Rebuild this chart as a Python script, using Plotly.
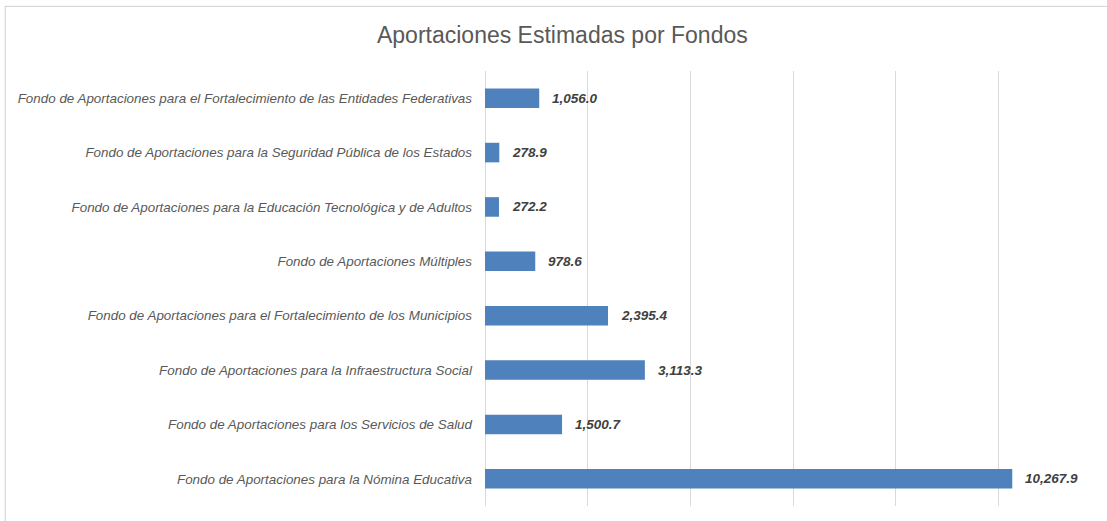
import plotly.graph_objects as go

categories = [
    "Fondo de Aportaciones para el Fortalecimiento de las Entidades Federativas",
    "Fondo de Aportaciones para la Seguridad Pública de los Estados",
    "Fondo de Aportaciones para la Educación Tecnológica y de Adultos",
    "Fondo de Aportaciones Múltiples",
    "Fondo de Aportaciones para el Fortalecimiento de los Municipios",
    "Fondo de Aportaciones para la Infraestructura Social",
    "Fondo de Aportaciones para los Servicios de Salud",
    "Fondo de Aportaciones para la Nómina Educativa",
]
values = [1056.0, 278.9, 272.2, 978.6, 2395.4, 3113.3, 1500.7, 10267.9]
title_text = "Aportaciones Estimadas por Fondos"

FONT = "Liberation Sans, Arial, sans-serif"

fig = go.Figure()
fig.add_trace(go.Bar(
    x=values,
    y=categories,
    orientation="h",
    marker=dict(color="#4F81BD", line=dict(width=0)),
    hoverinfo="x+y",
))

for c, v in zip(categories, values):
    fig.add_annotation(
        x=v, y=c, xref="x", yref="y",
        text=f"<b><i>{v:,.1f}</i></b>",
        showarrow=False, xanchor="left", xshift=11,
        font=dict(family=FONT, size=13.5, color="#404040"),
    )

# outer chart border
fig.add_shape(
    type="rect", xref="paper", yref="paper",
    x0=-0.7776, x1=1.05, y0=-0.1, y1=1.1487,
    line=dict(color="#D9D9D9", width=1.2), fillcolor="rgba(0,0,0,0)",
    layer="below",
)

fig.update_layout(
    width=1107, height=521,
    margin=dict(l=485, r=5, t=71, b=15),
    paper_bgcolor="white", plot_bgcolor="white",
    bargap=0.64,
    showlegend=False,
    title=dict(
        text=title_text, x=0.508, xanchor="center", y=0.933, yanchor="middle",
        font=dict(family=FONT, size=23, color="#595959"),
    ),
    xaxis=dict(
        range=[0, 12015], tick0=0, dtick=2000, showgrid=True, gridcolor="#D9D9D9",
        gridwidth=1, zeroline=True, zerolinecolor="#D9D9D9", zerolinewidth=1,
        showticklabels=False, showline=False, fixedrange=True,
    ),
    yaxis=dict(
        autorange="reversed", showgrid=False, zeroline=False, showline=False,
        ticks="", ticklabelstandoff=12,
        tickfont=dict(family=FONT, size=13.4, color="#595959", style="italic"),
    ),
    font=dict(family=FONT),
)

fig.write_html(
    "out.html",
    config={"displayModeBar": False},
    post_script="document.body.style.margin='0px';document.body.style.overflow='hidden';",
)
